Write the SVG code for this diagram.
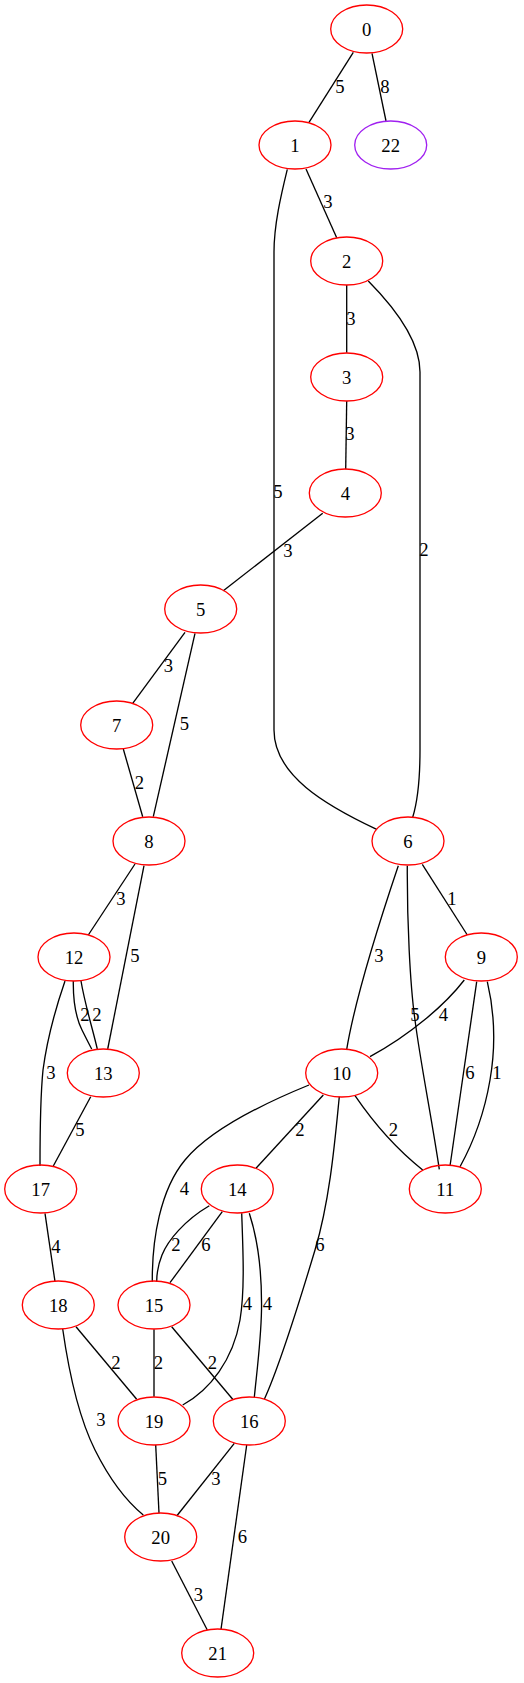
<svg xmlns="http://www.w3.org/2000/svg" width="524" height="1683" viewBox="0 0 524 1683">
<style>
.n ellipse{fill:none;stroke:#ff0000;stroke-width:1.33}
.p ellipse{stroke:#a020f0}
text{font-family:"Liberation Serif","Times New Roman",serif;font-size:18.67px;fill:#000;text-anchor:middle}
#edges path{fill:none;stroke:#000;stroke-width:1.33}
</style>
<rect width="524" height="1683" fill="#fff"/>
<g id="edges">
<path d="M353.3,52.3 L309,122.3"/><text x="340" y="93">5</text>
<path d="M372,53.3 L386,121"/><text x="385" y="93">8</text>
<path d="M306,169 L336.7,237.7"/><text x="328" y="208">3</text>
<path d="M287.3,169.3 C281,195 274,225 274,252 L274,730 C274,775 325,805 376.7,829.3"/><text x="278" y="498">5</text>
<path d="M346.7,285 L346.7,352.7"/><text x="351" y="325">3</text>
<path d="M368.3,281 C395,308 420,340 420,372 L420,750 C420,780 418,800 412.7,817.3"/><text x="424" y="556">2</text>
<path d="M346.7,401 L345.7,469.3"/><text x="350" y="440">3</text>
<path d="M322.7,513.3 L223.3,590.7"/><text x="288" y="557">3</text>
<path d="M185,632.3 L132.7,703.3"/><text x="168.5" y="672">3</text>
<path d="M195,633.3 L153.3,816.7"/><text x="184.5" y="730">5</text>
<path d="M123.3,749 L142.7,816.7"/><text x="139.5" y="789">2</text>
<path d="M135,864 L88.3,935"/><text x="121" y="905">3</text>
<path d="M144,865.7 L107.7,1049"/><text x="135" y="962">5</text>
<path d="M73.3,981 C73,1005 77,1020 82,1030 C86,1038 89,1044 91.7,1049"/><text x="85" y="1021">2</text>
<path d="M81,981 C85,1005 93,1030 97.3,1049"/><text x="97" y="1021">2</text>
<path d="M65,981 C55,1010 47,1040 43,1070 C40,1100 40,1140 40,1166"/><text x="51" y="1079">3</text>
<path d="M90.7,1096.7 L53.3,1166"/><text x="80" y="1136">5</text>
<path d="M45,1213.3 L55,1281.7"/><text x="56" y="1253">4</text>
<path d="M422.3,864.3 L467.3,935"/><text x="452" y="905">1</text>
<path d="M398.3,865.7 C380,920 355,1000 346.7,1049.3"/><text x="379" y="962">3</text>
<path d="M407.3,865.7 C407,920 410,985 415,1020 C420,1060 432,1120 439.3,1169.3"/><text x="415" y="1021">5</text>
<path d="M464.3,980 C445,1005 410,1035 370,1056.7"/><text x="443.5" y="1021">4</text>
<path d="M476.7,981.7 L450,1166"/><text x="470" y="1079">6</text>
<path d="M487.3,981.7 C494,1010 496,1045 490,1080 C484,1115 472,1145 460,1166.7"/><text x="497" y="1079">1</text>
<path d="M355,1095.7 C375,1125 395,1148 422.7,1170"/><text x="393.5" y="1136">2</text>
<path d="M323.3,1095 L256,1168.3"/><text x="300" y="1136">2</text>
<path d="M309,1085 C260,1105 210,1130 185,1160 C160,1190 152,1240 152.3,1281.7"/><text x="184.5" y="1195">4</text>
<path d="M339.3,1096.7 C335,1140 330,1200 315,1250 C300,1300 280,1365 264.3,1399.3"/><text x="320" y="1251">6</text>
<path d="M209.3,1205.7 C185,1220 168,1240 162,1255 C158,1265 156.7,1275 156.7,1281.7"/><text x="176" y="1251">2</text>
<path d="M222.3,1211.7 L170,1282.7"/><text x="206" y="1251">6</text>
<path d="M241.7,1213.3 C243,1250 245,1290 240,1320 C233,1360 210,1390 182.7,1405"/><text x="247.5" y="1310">4</text>
<path d="M249.3,1213.3 C258,1240 262,1275 261.5,1310 C261,1340 257,1370 254.3,1397.3"/><text x="267.5" y="1310">4</text>
<path d="M154,1329.3 L154,1396.7"/><text x="158.5" y="1369">2</text>
<path d="M171.7,1326.7 L232.7,1399.3"/><text x="212.5" y="1369">2</text>
<path d="M76,1326.7 L136.7,1399.3"/><text x="116" y="1369">2</text>
<path d="M62.7,1329 C70,1380 80,1420 95,1450 C110,1480 125,1500 143.3,1515"/><text x="101" y="1426">3</text>
<path d="M155.7,1445 L159,1513.3"/><text x="162.5" y="1485">5</text>
<path d="M234.3,1443.3 L176.7,1516"/><text x="216" y="1485">3</text>
<path d="M246.7,1445 L221,1629.3"/><text x="242.5" y="1543">6</text>
<path d="M171.7,1561 L207.3,1630"/><text x="198.5" y="1601">3</text>
</g>
<g id="node0" class="n"><ellipse cx="366.7" cy="29" rx="36" ry="24"/><text x="366.7" y="35.5">0</text></g>
<g id="node1" class="n"><ellipse cx="295" cy="145" rx="36" ry="24"/><text x="295" y="151.5">1</text></g>
<g id="node22" class="n p"><ellipse cx="390.7" cy="145" rx="36" ry="24"/><text x="390.7" y="151.5">22</text></g>
<g id="node2" class="n"><ellipse cx="346.7" cy="261" rx="36" ry="24"/><text x="346.7" y="267.5">2</text></g>
<g id="node3" class="n"><ellipse cx="346.7" cy="377" rx="36" ry="24"/><text x="346.7" y="383.5">3</text></g>
<g id="node4" class="n"><ellipse cx="345.3" cy="493" rx="36" ry="24"/><text x="345.3" y="499.5">4</text></g>
<g id="node5" class="n"><ellipse cx="200.7" cy="609" rx="36" ry="24"/><text x="200.7" y="615.5">5</text></g>
<g id="node7" class="n"><ellipse cx="116.7" cy="725" rx="36" ry="24"/><text x="116.7" y="731.5">7</text></g>
<g id="node8" class="n"><ellipse cx="149" cy="841" rx="36" ry="24"/><text x="149" y="847.5">8</text></g>
<g id="node6" class="n"><ellipse cx="408" cy="841" rx="36" ry="24"/><text x="408" y="847.5">6</text></g>
<g id="node12" class="n"><ellipse cx="74" cy="957" rx="36" ry="24"/><text x="74" y="963.5">12</text></g>
<g id="node9" class="n"><ellipse cx="481.3" cy="957" rx="36" ry="24"/><text x="481.3" y="963.5">9</text></g>
<g id="node13" class="n"><ellipse cx="103.3" cy="1073" rx="36" ry="24"/><text x="103.3" y="1079.5">13</text></g>
<g id="node10" class="n"><ellipse cx="341.7" cy="1073" rx="36" ry="24"/><text x="341.7" y="1079.5">10</text></g>
<g id="node17" class="n"><ellipse cx="40.7" cy="1189" rx="36" ry="24"/><text x="40.7" y="1195.5">17</text></g>
<g id="node14" class="n"><ellipse cx="237.3" cy="1189" rx="36" ry="24"/><text x="237.3" y="1195.5">14</text></g>
<g id="node11" class="n"><ellipse cx="445.3" cy="1189" rx="36" ry="24"/><text x="445.3" y="1195.5">11</text></g>
<g id="node18" class="n"><ellipse cx="58.3" cy="1305" rx="36" ry="24"/><text x="58.3" y="1311.5">18</text></g>
<g id="node15" class="n"><ellipse cx="154" cy="1305" rx="36" ry="24"/><text x="154" y="1311.5">15</text></g>
<g id="node19" class="n"><ellipse cx="154" cy="1421" rx="36" ry="24"/><text x="154" y="1427.5">19</text></g>
<g id="node16" class="n"><ellipse cx="249.3" cy="1421" rx="36" ry="24"/><text x="249.3" y="1427.5">16</text></g>
<g id="node20" class="n"><ellipse cx="160.7" cy="1537" rx="36" ry="24"/><text x="160.7" y="1543.5">20</text></g>
<g id="node21" class="n"><ellipse cx="217.7" cy="1653" rx="36" ry="24"/><text x="217.7" y="1659.5">21</text></g>
</svg>
